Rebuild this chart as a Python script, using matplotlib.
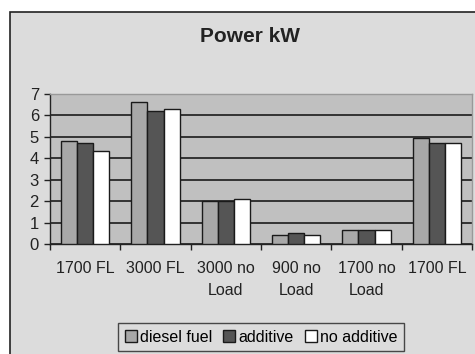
import matplotlib
matplotlib.use("Agg")
import matplotlib.pyplot as plt
import numpy as np
from matplotlib.patches import Rectangle

categories = ["1700 FL", "3000 FL", "3000 no\nLoad", "900 no\nLoad", "1700 no\nLoad", "1700 FL"]
series_names = ["diesel fuel", "additive", "no additive"]
diesel = [4.8, 6.65, 2.0, 0.42, 0.64, 4.95]
additive = [4.73, 6.22, 2.0, 0.5, 0.64, 4.71]
no_additive = [4.36, 6.3, 2.1, 0.42, 0.64, 4.71]
yticks = [0, 1, 2, 3, 4, 5, 6, 7]

plt.rcParams['font.family'] = ['Liberation Sans', 'DejaVu Sans']

fig = plt.figure(figsize=(4.75, 3.54), dpi=100, facecolor='white')
# chart area background with border
fig.patches.append(Rectangle((9.5/475, -0.1), 1.2, 1 - 12.5/354 + 0.1,
                             transform=fig.transFigure, facecolor='#dcdcdc',
                             edgecolor='#222222', linewidth=1.2, zorder=-10))

ax = fig.add_axes([50/475, 1 - 244/354, 422/475, 150/354])
ax.set_facecolor('#c0c0c0')

x = np.arange(len(categories))
w = 0.23
colors = ['#a8a8a8', '#555555', '#ffffff']
for i, (vals, c, name) in enumerate(zip([diesel, additive, no_additive], colors, series_names)):
    ax.bar(x + (i - 1) * w, vals, width=w, color=c, edgecolor='#1a1a1a', linewidth=1.0,
           label=name, zorder=3)

ax.set_xlim(-0.5, len(categories) - 0.5)
ax.set_ylim(0, 7)
ax.set_yticks(yticks)
ax.set_yticklabels([str(t) for t in yticks], fontsize=12, color='#222222')
ax.yaxis.grid(True, color='#333333', linewidth=1.4, zorder=1)
ax.set_axisbelow(True)

ax.set_xticks(x)
ax.set_xticklabels(categories, fontsize=11.5, color='#222222', linespacing=1.6)
ax.tick_params(axis='x', length=0, pad=12)
ax.set_xticks(np.arange(-0.5, len(categories)), minor=True)
ax.tick_params(axis='x', which='minor', length=4, width=1, color='#222222', direction='out')
ax.tick_params(axis='y', length=4, width=1, color='#222222', direction='out', pad=4)

for s in ['left', 'bottom']:
    ax.spines[s].set_color('#222222')
    ax.spines[s].set_linewidth(1.0)
for s in ['top', 'right']:
    ax.spines[s].set_color('#999999')
    ax.spines[s].set_linewidth(1.0)

fig.text(250/475, 1 - 37/354, "Power kW", ha='center', va='center', fontsize=15,
         fontweight='bold', color='#222222')

leg = fig.legend(loc='center', bbox_to_anchor=(261/475, 1 - 337/354), ncol=3,
                 fontsize=11.5, frameon=True, fancybox=False, handlelength=0.75,
                 handleheight=0.75, handletextpad=0.2, columnspacing=0.7,
                 borderpad=0.4, borderaxespad=0)
leg.get_frame().set_edgecolor('#222222')
leg.get_frame().set_facecolor('#dcdcdc')
leg.get_frame().set_linewidth(1.0)

fig.savefig("out.png", dpi=100, facecolor=fig.get_facecolor())
